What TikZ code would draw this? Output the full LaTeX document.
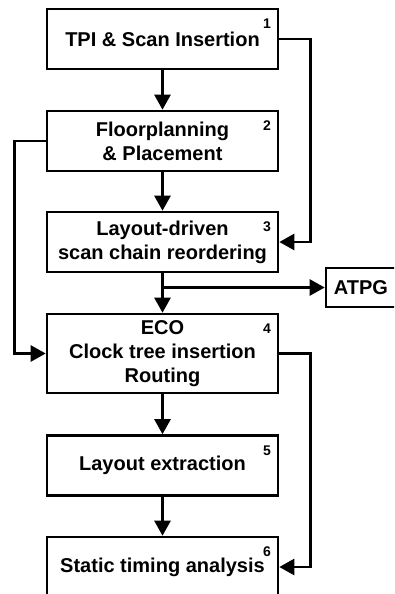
\documentclass[tikz,border=0pt]{standalone}
\usepackage{fontspec}
\setmainfont{Liberation Sans}
\usepackage{tikz}
\usetikzlibrary{arrows.meta}

\begin{document}
\begin{tikzpicture}[
    x=1pt, y=-1pt,
    >={Triangle[length=15pt,width=16pt]},
    line width=2.6pt,
    stage/.style={draw, rectangle, align=center, minimum width=231pt, minimum height=60pt,
        inner sep=0pt, font=\fontsize{20}{24}\selectfont\bfseries},
    num/.style={inner sep=0pt, anchor=north east, font=\fontsize{14}{14}\selectfont\bfseries}
]
\clip (0,0) rectangle (394,594);
\node[stage] (s1) at (162.5,39) {TPI \& Scan Insertion};
\node[stage] (s2) at (162.5,141) {Floorplanning\\\& Placement};
\node[stage] (s3) at (162.5,242) {Layout-driven\\scan chain reordering};
\node[stage, minimum height=79pt] (s4) at (162.5,353.5) {ECO\\Clock tree insertion\\Routing};
\node[stage] (s5) at (162.5,465.5) {Layout extraction};
\node[stage] (s6) at (162.5,567) {Static timing analysis};
\node[stage, minimum width=70pt, minimum height=39pt] (atpg) at (361,287.5) {ATPG};
\coordinate (tap) at (162.5,287.5);

% stage numbers
\node[num] (n1) at ([shift={(-7,10)}]s1.north east) {1};
\node[num] (n2) at ([shift={(-7,10)}]s2.north east) {2};
\node[num] (n3) at ([shift={(-7,10)}]s3.north east) {3};
\node[num] (n4) at ([shift={(-7,10)}]s4.north east) {4};
\node[num] (n5) at ([shift={(-7,10)}]s5.north east) {5};
\node[num] (n6) at ([shift={(-7,10)}]s6.north east) {6};

\draw[->] (s1) -- (s2);
\draw[->] (s2) -- (s3);
\draw[->] (s3) -- (s4);
\draw[->] (s4) -- (s5);
\draw[->] (s5) -- (s6);
\draw[->] (tap) -- (atpg);
\draw[->] (s1.east) -- ++(31,0) |- (s3.east);
\draw[->] (s2.west) -- ++(-31,0) |- (s4.west);
\draw[->] (s4.east) -- ++(31,0) |- (s6.east);
\end{tikzpicture}
\end{document}
